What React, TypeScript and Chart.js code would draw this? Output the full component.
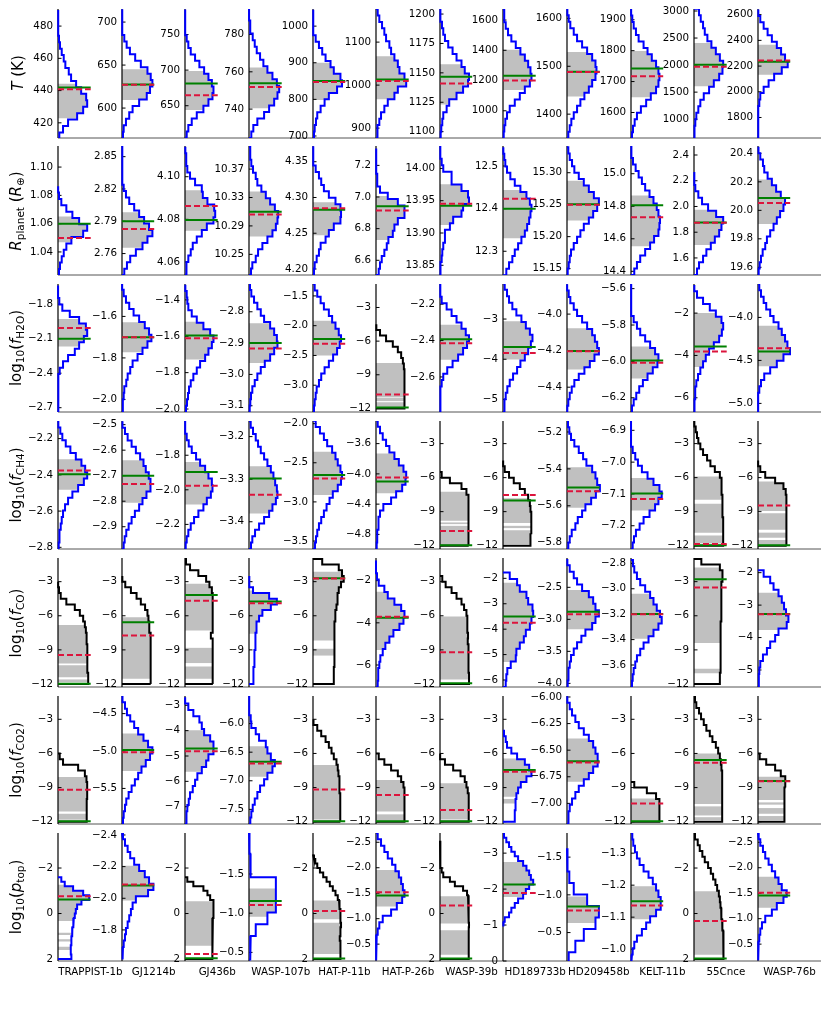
import React, { useEffect, useRef } from "react";
import { Chart, registerables } from "chart.js";

Chart.register(...registerables);

const PLANETS = ["TRAPPIST-1b", "GJ1214b", "GJ436b", "WASP-107b", "HAT-P-11b", "HAT-P-26b", "WASP-39b", "HD189733b", "HD209458b", "KELT-11b", "55Cnce", "WASP-76b"];

type R2 = [number, number];

// ---------- Row 1: T (K)
const T_KIND = ["b", "b", "b", "b", "b", "b", "b", "b", "b", "b", "b", "b"];
const T_RANGE: R2[] = [[410.6, 490.6], [565.2, 715.2], [604.7, 785.8], [724.5, 793.7], [694.5, 1046.8], [877, 1177], [1094.6, 1204.3], [820, 1673], [1350.2, 1619.6], [1517.4, 1934.8], [652, 3037], [1640.5, 2644]];
const T_TICKS = [[420, 440, 460, 480], [600, 650, 700], [650, 700, 750], [740, 760, 780], [700, 800, 900, 1000], [900, 1000, 1100], [1100, 1125, 1150, 1175, 1200], [1000, 1200, 1400, 1600], [1400, 1500, 1600], [1600, 1700, 1800, 1900], [1000, 1500, 2000, 2500, 3000], [1800, 2000, 2200, 2400, 2600]];
const T_DEC = [0, 0, 0, 0, 0, 0, 0, 0, 0, 0, 0, 0];
const T_BINS: R2[] = [[410, 490], [565, 715], [605, 785], [724.5, 794.5], [695, 1045], [877, 1177], [1094.5, 1204.5], [820, 1670], [1350, 1620], [1515, 1935], [640, 3040], [1640, 2640]];
const T_COUNTS = [
  [1.3, 5, 10, 19, 25, 29, 28, 23, 18, 13, 10.7, 7.3, 5.7, 3.7, 2, 1, 0.7, 0.3, 0.2, 0],
  [1, 1.7, 4, 7.3, 10.7, 17.3, 25, 28.3, 30.7, 29, 25.7, 19, 13.3, 8, 4.7, 2.3, 1, 0.3, 0.2, 0],
  [1.7, 3.3, 6.7, 11.7, 18.3, 23.3, 27.3, 28.3, 26.7, 23.3, 19, 14.3, 10, 5.7, 3.3, 1.7, 0.7, 0.3, 0.1, 0],
  [2.3, 4.3, 8.3, 15, 20, 25, 28.3, 30, 27.7, 23.3, 18.3, 14.3, 11, 7.7, 5.7, 3.7, 1.7, 1, 0.3, 0],
  [1, 1.7, 3, 4.3, 7.7, 11.7, 16, 24.3, 29.3, 27.7, 21, 17.7, 12.7, 9.3, 6, 2.7, 1, 0.3, 0.2, 0],
  [1, 1.7, 3.3, 5, 8.3, 11.7, 18.3, 21.7, 30, 28.3, 23.3, 21.7, 18.3, 15, 13.3, 10, 8.3, 6, 3.3, 1.7],
  [0.7, 1.3, 2.3, 3.3, 6.7, 9.3, 16.7, 23.3, 28.3, 29.3, 25, 21.7, 16.7, 12.7, 8.3, 5, 3.3, 2, 1, 0.3],
  [0.7, 1.3, 2.3, 4, 6.7, 11.7, 16.7, 21.7, 26.7, 28.3, 27.3, 25, 21.7, 17.3, 12.7, 8.3, 5, 2.7, 1.7, 1],
  [1.3, 2.7, 4.3, 6.7, 10, 13.3, 17.3, 21.7, 25, 28.3, 29.3, 28.3, 25, 20, 15, 10, 6.7, 3.3, 1.7, 0.7],
  [1, 2, 3.7, 6, 10, 15.3, 20, 25.3, 27.7, 28.7, 27.7, 25.3, 21, 16.7, 12.7, 7.7, 5, 2.7, 1.3, 0.3],
  [0.3, 0.7, 1.3, 2.3, 4.3, 6.3, 9.7, 15, 19.7, 25, 28.3, 29, 25.7, 21.7, 17.3, 13.3, 10.7, 9, 6.7, 5],
  [0, 0.1, 0.2, 0.3, 0.7, 1.3, 2.3, 5.7, 10.7, 16.3, 24, 30, 27.3, 23.3, 19, 14, 9.7, 5.7, 2.3, 0.7],
];
const T_CI: R2[][] = [[[422.9, 444.2]], [[609.4, 645]], [[643.9, 698.6]], [[740.4, 762.3]], [[798.2, 900]], [[967, 1067]], [[1123.1, 1157.4]], [[1138, 1404]], [[1437, 1530]], [[1649, 1799]], [[1609, 2410]], [[2133, 2366]]];
const T_TRUE = [441.9, 627.5, 681.1, 753.9, 850.5, 1013.3, 1146.6, 1231, 1488.5, 1742.4, 2006, 2234];
const T_RETR = [440.8, 627, 664.6, 751.9, 847.7, 1009.4, 1140.9, 1200, 1488, 1717.4, 1969, 2244];

// ---------- Row 2: R_planet
const R_KIND = ["b", "b", "b", "b", "b", "b", "b", "b", "b", "b", "b", "b"];
const R_RANGE: R2[] = [[1.0237, 1.1149], [2.7401, 2.8599], [4.0539, 4.1144], [10.2209, 10.4025], [4.1916, 4.372], [6.507, 7.3225], [13.835, 14.0347], [12.2443, 12.547], [15.14, 15.3418], [14.3774, 15.1705], [1.4675, 2.47], [19.546, 20.4516]];
const R_TICKS = [[1.04, 1.06, 1.08, 1.1], [2.76, 2.79, 2.82, 2.85], [4.06, 4.08, 4.1], [10.25, 10.29, 10.33, 10.37], [4.2, 4.25, 4.3, 4.35], [6.6, 6.8, 7, 7.2], [13.85, 13.9, 13.95, 14], [12.3, 12.4, 12.5], [15.15, 15.2, 15.25, 15.3], [14.4, 14.6, 14.8, 15], [1.6, 1.8, 2, 2.2, 2.4], [19.6, 19.8, 20, 20.2, 20.4]];
const R_DEC = [2, 2, 2, 2, 2, 1, 2, 1, 2, 1, 1, 1];
const R_BINS: R2[] = [[1.0235, 1.0865], [2.74, 2.86], [4.054, 4.114], [10.221, 10.401], [4.1916, 4.3716], [6.507, 7.307], [13.835, 14.035], [12.244, 12.544], [15.14, 15.34], [14.377, 15.177], [1.4675, 2.2675], [19.546, 20.446]];
const R_COUNTS = [
  [1, 2, 3.7, 5.7, 8.3, 13.3, 25, 29, 21, 14.3, 8.3, 3.3, 1, 0.3],
  [2.3, 5, 8.3, 14, 20.7, 25.7, 30.7, 27.3, 22.3, 17.3, 12.3, 7.3, 4, 1.7, 1, 0.7, 0.3, 0.2, 0.1, 0],
  [1, 1.7, 3.3, 5.7, 7.7, 11.7, 16.7, 21.7, 28.3, 30, 29, 22.3, 17.7, 16.7, 10, 5, 2.3, 1.7, 1, 0.7],
  [2, 3.3, 6.7, 9, 13.3, 18.3, 23.3, 26.7, 28.3, 29, 25.7, 21, 16.7, 12.3, 8.3, 6.7, 4, 2.3, 1.7, 1],
  [1, 1.7, 3.7, 6, 7.7, 12.7, 16, 21, 27.7, 28.3, 27.7, 22.7, 16, 11, 8.3, 6, 2.7, 1, 0.3, 0],
  [2.7, 4, 5.7, 8.3, 10.7, 12.3, 16.7, 18.3, 21.7, 28.3, 28.3, 21.7, 11.7, 4, 1.7, 1, 0.7, 0.3, 0.2, 0],
  [0.3, 0.7, 1.7, 2.3, 3.3, 5, 5, 10, 13.3, 21.7, 23.3, 29.3, 28.3, 21.7, 11.7, 11.7, 3.3, 1.7, 0.7, 0.3],
  [3.3, 6, 9.3, 11.7, 15, 18.3, 21.7, 24, 26, 27.3, 28.3, 26.7, 23.3, 17.3, 11.7, 7.3, 4, 2.3, 1.3, 0.7],
  [0.7, 1.7, 2.7, 4, 6.7, 10, 13.3, 16.7, 21.7, 26, 30, 31.7, 26.7, 21.7, 16.7, 11.7, 7.3, 5, 2.7, 1.3],
  [3.3, 6, 9.3, 14.3, 19.3, 23.3, 27.7, 28.7, 29.3, 27.7, 26, 22.7, 18.7, 14.3, 11, 7.7, 4.7, 2, 1, 0.3],
  [3, 5, 9, 12.3, 16.7, 20.7, 25, 27.3, 29, 22, 14, 8, 4.3, 1.3, 0.7, 0.3],
  [0.7, 1.7, 3, 4.7, 7.3, 9, 12.3, 15.7, 19, 22.3, 25.7, 27.3, 23, 18.3, 14, 9.7, 6.3, 5, 2.3, 1],
];
const R_CI: R2[][] = [[[1.0469, 1.065]], [[2.7653, 2.7984]], [[4.0747, 4.0936]], [[10.275, 10.3385]], [[4.2472, 4.2935]], [[6.728, 7.007]], [[13.9124, 13.9753]], [[12.3306, 12.444]], [[15.2254, 15.2876]], [[14.5548, 14.866]], [[1.701, 1.974]], [[19.9038, 20.216]]];
const R_TRUE = [1.06, 2.79, 4.0797, 10.31, 4.2827, 6.9415, 13.9422, 12.4, 15.2505, 14.806, 1.876, 20.0869];
const R_RETR = [1.0498, 2.7829, 4.0863, 10.306, 4.285, 6.914, 13.9453, 12.4235, 15.25, 14.732, 1.874, 20.0516];

// ---------- Row 3: log10 f_H2O
const H2O_KIND = ["b", "b", "b", "b", "b", "k", "b", "b", "b", "b", "b", "b"];
const H2O_RANGE: R2[] = [[-2.7374, -1.6246], [-2.0606, -1.4438], [-2.0164, -1.3127], [-3.12, -2.7113], [-3.45, -1.3], [-12.32, -0.906], [-2.7927, -2.089], [-5.3128, -2.1276], [-4.5357, -3.8353], [-6.2782, -5.5745], [-6.672, -0.625], [-5.1, -3.6115]];
const H2O_TICKS = [[-2.7, -2.4, -2.1, -1.8], [-2, -1.8, -1.6], [-2, -1.8, -1.6, -1.4], [-3.1, -3, -2.9, -2.8], [-3, -2.5, -2, -1.5], [-12, -9, -6, -3], [-2.6, -2.4, -2.2], [-5, -4, -3], [-4.4, -4.2, -4], [-6.2, -6, -5.8, -5.6], [-6, -4, -2], [-5, -4.5, -4]];
const H2O_DEC = [1, 1, 1, 1, 1, 0, 1, 0, 1, 1, 0, 1];
const H2O_BINS: R2[] = [[-2.737, -1.637], [-2.0606, -1.4406], [-2.0164, -1.3164], [-3.12, -2.71], [-3.45, -1.3], [-12, -4.5], [-2.793, -2.089], [-5.313, -2.113], [-4.536, -3.836], [-6.278, -5.574], [-6.672, -0.672], [-5.1, -3.61]];
const H2O_COUNTS = [
  [0, 0.2, 0.3, 0.3, 0.5, 0.7, 1.7, 5, 10, 16.7, 21, 25.7, 29, 27.7, 21, 11.7, 4.3, 1.3, 0.3, 0],
  [0.7, 1, 1.7, 2.3, 4.3, 5.7, 8.3, 10.7, 15.7, 20.7, 25.7, 29.7, 27.3, 23, 17.3, 11.7, 7.3, 4, 1.7, 0.3],
  [1, 2, 3, 4, 5.7, 8.3, 11.7, 15, 20, 23.3, 26.7, 28.3, 25, 18.3, 11.7, 6.7, 3.3, 2.3, 1.7, 0.7],
  [0.7, 1.3, 2, 3.3, 5.7, 8.3, 11.7, 15.7, 21, 25, 28.3, 27.7, 25, 21, 15, 11.7, 8.3, 5, 2.3, 1],
  [1, 1.7, 2.7, 3.7, 6, 8.3, 11.7, 16, 20.3, 24.3, 27, 28.3, 26, 22.7, 19.3, 16, 11, 7.7, 4.3, 1.7],
  [28.3, 28.3, 28.3, 28.3, 28.3, 28.3, 28.3, 27.7, 26.7, 25, 21.7, 16.7, 10, 4, 0.7],
  [0.2, 0.3, 0.5, 0.7, 1.7, 3.3, 7.3, 12.7, 18.3, 23.3, 27.3, 29.3, 26, 21.7, 16.7, 11.7, 6.7, 1.7, 0.7, 0.3],
  [1, 1.7, 2.7, 4.3, 6.7, 10, 14, 17.3, 21.7, 25, 27.7, 29.3, 26.7, 22.7, 18.3, 13.3, 9.3, 6, 4, 1.7],
  [0.3, 1.3, 2.7, 4.7, 7.3, 11.7, 17.3, 22.7, 27.3, 31.7, 30, 27.7, 25, 20, 15, 10, 6.7, 3.3, 1.7, 0.3],
  [1, 2.7, 5.3, 8.3, 12, 16.7, 22, 26.7, 27.7, 24.3, 19.3, 14.3, 9.3, 6, 2.7, 1, 0.3, 0.2, 0, 0],
  [0.3, 0.7, 1, 1.3, 2.3, 4, 6.3, 9, 11.7, 15, 19.7, 25, 27.7, 29, 27.3, 21.7, 15.7, 9, 3, 0.7],
  [0, 0.2, 0.3, 1.3, 3, 6.3, 12.3, 19, 25.7, 32.3, 29.7, 27.3, 24, 20.7, 15.7, 12.3, 8.3, 5.7, 3, 1.3],
];
const H2O_CI: R2[][] = [[[-2.169, -1.9294]], [[-1.7721, -1.6287]], [[-1.7273, -1.52]], [[-2.9634, -2.837]], [[-2.5, -1.9167]], [[-11.9, -11.45], [-11.35, -11.05], [-11, -7.94]], [[-2.5055, -2.3127]], [[-4.0082, -3.0576]], [[-4.3032, -4.0778]], [[-6.0945, -5.918]], [[-4.547, -2]], [[-4.569, -4.096]]];
const H2O_TRUE = [-2.1, -1.7004, -1.5964, -2.9, -2.222, -11.92, -2.3927, -3.6955, -4.2018, -5.9945, -3.578, -4.396];
const H2O_RETR = [-2.007, -1.7, -1.6109, -2.9169, -2.3056, -10.76, -2.4145, -3.8436, -4.203, -6.0073, -3.8125, -4.3577];

// ---------- Row 4: log10 f_CH4
const CH4_KIND = ["b", "b", "b", "b", "b", "b", "k", "k", "b", "b", "k", "k"];
const CH4_RANGE: R2[] = [[-2.8092, -2.1028], [-2.9873, -2.4857], [-2.3423, -1.6019], [-3.464, -3.1633], [-3.602, -1.966], [-4.993, -3.301], [-12.293, -1.006], [-12.293, -1.006], [-5.8342, -5.1405], [-7.2731, -6.8707], [-12.293, -1.006], [-12.293, -1.006]];
const CH4_TICKS = [[-2.8, -2.6, -2.4, -2.2], [-2.9, -2.8, -2.7, -2.6, -2.5], [-2.2, -2, -1.8], [-3.4, -3.3, -3.2], [-3.5, -3, -2.5, -2], [-4.8, -4.4, -4, -3.6], [-12, -9, -6, -3], [-12, -9, -6, -3], [-5.8, -5.6, -5.4, -5.2], [-7.2, -7.1, -7, -6.9], [-12, -9, -6, -3], [-12, -9, -6, -3]];
const CH4_DEC = [1, 1, 1, 1, 1, 1, 0, 0, 1, 1, 0, 0];
const CH4_BINS: R2[] = [[-2.809, -2.103], [-2.987, -2.487], [-2.342, -1.602], [-3.464, -3.164], [-3.602, -1.962], [-4.993, -3.293], [-12, -5.5], [-12, -4.5], [-5.834, -5.14], [-7.273, -6.871], [-12, -1], [-12, -4.5]];
const CH4_COUNTS = [
  [0.7, 1, 1.7, 2.7, 3.7, 5, 7, 10, 14.3, 20, 25.7, 29, 27, 23.3, 17.7, 12.3, 7.7, 4.3, 2.3, 0.7],
  [1.7, 2.7, 4.3, 6.7, 9.7, 13, 17.3, 20.7, 24.7, 28.3, 29, 27, 24, 21.7, 18.3, 14, 9.7, 5.7, 3, 1],
  [0.7, 1.7, 3.3, 5.7, 9, 13.3, 18.3, 21.7, 25.7, 27.3, 26.7, 23.3, 20, 15, 11, 6.7, 3.7, 1.7, 0.7, 0],
  [2, 3.3, 6, 10, 15, 20, 23.3, 26.7, 28.3, 27.7, 26, 24.3, 21.7, 18.3, 15, 11.7, 9, 6.7, 4, 1.7],
  [2, 3, 4.3, 6, 8.3, 11, 13.7, 16.7, 20, 25, 28.3, 29.3, 27.7, 25, 22.7, 19.3, 14.3, 11, 7, 2.7],
  [0.7, 1, 1.3, 2, 2.7, 4, 7.3, 15, 20, 26, 29.3, 30, 27.3, 22.7, 18.3, 13.3, 10, 6.7, 4, 1.7],
  [29, 29, 29, 29, 29, 28.7, 28.7, 28.3, 28.3, 26.7, 21.7, 10, 1.7],
  [27.3, 27.3, 28.3, 28.3, 28, 28, 27.3, 26.7, 25, 21.7, 16.7, 10.7, 6, 1.7, 0.3],
  [1.3, 2.7, 4.7, 8.3, 10.7, 15, 18.3, 24, 28.7, 32.7, 30, 28.3, 25, 19.3, 16, 11.7, 7.3, 4, 2.3, 1],
  [1.7, 3, 5, 8.7, 12.7, 18.7, 24.3, 27.7, 31, 28.7, 22.7, 16.7, 11, 7, 4.3, 1.7, 0.3, 0, 0, 0],
  [29, 29, 29, 29, 29, 28.7, 28.3, 28.3, 28, 27.7, 27.3, 27.3, 25.7, 20.7, 16.3, 13, 9, 6.3, 4.3, 3, 1.7, 0.7],
  [29, 29, 29, 29, 28.7, 28.7, 28.3, 28.3, 28.3, 28, 25.7, 17.3, 7.3, 2.3, 0.3],
];
const CH4_CI: R2[][] = [[[-2.4826, -2.3138]], [[-2.8062, -2.6394]], [[-2.0846, -1.8385]], [[-3.3805, -3.2695]], [[-2.9122, -2.3598]], [[-4.255, -3.732]], [[-11.94, -10.25], [-10.1, -9.95], [-9.8, -7.25]], [[-11.87, -10.65], [-10.45, -10.25], [-10, -7.82]], [[-5.6108, -5.391]], [[-7.1522, -7.0498]], [[-11.8, -11.1], [-10.85, -8.3], [-7.95, -5.9]], [[-11.87, -11.5], [-11.3, -10.85], [-10.6, -9.15], [-8.95, -6.35]]];
const CH4_TRUE = [-2.3963, -2.7, -1.8962, -3.2984, -2.6572, -4.101, -11.97, -8.02, -5.5009, -7.099, -11.97, -11.97];
const CH4_RETR = [-2.3761, -2.7326, -1.9769, -3.3367, -2.6997, -4.048, -10.71, -7.525, -5.5207, -7.1157, -11.85, -8.46];

// ---------- Row 5: log10 f_CO
const CO_KIND = ["k", "k", "k", "b", "k", "b", "k", "b", "b", "b", "k", "b"];
const CO_RANGE: R2[] = [[-12.264, -0.918], [-12.264, -0.918], [-12.264, -0.918], [-12.264, -0.918], [-12.264, -0.918], [-7.043, -0.925], [-12.264, -0.918], [-6.275, -1.2], [-4.057, -2.042], [-3.773, -2.758], [-12.264, -0.918], [-5.524, -1.548]];
const CO_TICKS = [[-12, -9, -6, -3], [-12, -9, -6, -3], [-12, -9, -6, -3], [-12, -9, -6, -3], [-12, -9, -6, -3], [-6, -4, -2], [-12, -9, -6, -3], [-6, -5, -4, -3, -2], [-4, -3.5, -3, -2.5], [-3.6, -3.4, -3.2, -3, -2.8], [-12, -9, -6, -3], [-5, -4, -3, -2]];
const CO_DEC = [0, 0, 0, 0, 0, 0, 0, 0, 1, 1, 0, 0];
const CO_BINS: R2[] = [[-12, -3], [-12, -2.5], [-12, -1], [-12, -2.5], [-12, -1], [-7.043, -1.043], [-12, -2.5], [-6.275, -1.775], [-4.057, -2.057], [-3.773, -2.773], [-12, -1], [-5.524, -1.924]];
const CO_COUNTS = [
  [30, 30, 29.7, 29.3, 29, 29, 29, 28.7, 28.3, 27.7, 26.7, 25, 21.7, 16.7, 8.3, 2.7, 1, 0.3],
  [29, 29, 29, 29, 29, 29, 29, 29, 28.3, 28, 27.3, 26.7, 25.7, 23.3, 19, 14.7, 9, 3.3, 0.7],
  [27.7, 27.7, 27.7, 27.3, 27.7, 27.7, 27.3, 27, 25.7, 27.3, 27.7, 27.7, 27.7, 27.7, 27.3, 27, 26.7, 24.3, 21, 13.3, 5, 1],
  [4, 4.3, 4.7, 5, 5.3, 5.7, 6, 6.3, 6.7, 7, 7.7, 10, 13.3, 21.7, 27.7, 20, 4, 0.7, 0.3],
  [21, 21, 21, 21.3, 21.3, 21.3, 21.7, 21.7, 21.7, 22, 22, 22.3, 22.7, 23.7, 24.3, 25, 26, 28.3, 31, 29.3, 26, 9.3],
  [1.7, 2, 2.3, 3.3, 4.3, 6.7, 9.3, 13.3, 17.3, 23.3, 27.3, 28.3, 25, 18.3, 11.7, 8.3, 2.7, 1, 0, 0],
  [29.3, 29.3, 29, 29, 29, 28.7, 28.3, 28, 28.3, 28, 27.7, 27.3, 26.7, 24.3, 21.7, 16.7, 11.7, 5.7, 2.3],
  [2.7, 3.3, 4.3, 7.7, 12.7, 13.3, 16.7, 20.7, 22.7, 26.7, 28.3, 30, 29.3, 25, 23.3, 16.7, 14, 6.7],
  [0.7, 1, 1.7, 2.7, 4, 6.7, 10, 14.3, 18.3, 25, 28.3, 31.7, 28.3, 26, 21.7, 15, 10, 6.7, 2.7, 0.7],
  [1, 1.7, 2.7, 4.3, 6, 9.3, 12.7, 17.7, 22.7, 27.7, 31, 29.3, 26, 22.7, 19.3, 14.3, 9.3, 6, 3.3, 2],
  [25.7, 25.7, 26, 26, 26.3, 26.3, 26.3, 26.7, 26.7, 26.7, 26.7, 27, 27, 27, 27.3, 27.3, 27.3, 27.3, 28.3, 28.3, 25.7, 7.3],
  [0.7, 1, 1.3, 2.3, 5, 9, 12.3, 17.3, 20.7, 29, 30.7, 28.3, 26.3, 24, 20.7, 15.7, 12.3, 5.7],
];
const CO_CI: R2[][] = [[[-11.85, -11.6], [-11.4, -10.35], [-10.2, -6.8]], [[-11.54, -6.12]], [[-11.54, -10.46], [-10.16, -8.82], [-7.29, -3.18]], [[-7.58, -3.77]], [[-9.5, -8.9], [-8.17, -2.12]], [[-5.29, -2.52]], [[-11.6, -6.06]], [[-5.29, -2.17]], [[-3.156, -2.542]], [[-3.3935, -3.0393]], [[-11.05, -10.65], [-8.4, -1.76]], [[-3.77, -2.62]]];
const CO_TRUE = [-11.97, -6.56, -4.17, -4.74, -2.7, -3.755, -11.94, -3.4983, -2.88, -3.199, -2.79, -3.2775];
const CO_RETR = [-9.44, -7.73, -4.67, -4.89, -2.72, -3.7075, -9.2, -3.748, -2.922, -3.2, -3.52, -3.28];

// ---------- Row 6: log10 f_CO2
const CO2_KIND = ["k", "b", "b", "b", "k", "k", "k", "b", "b", "k", "k", "k"];
const CO2_RANGE: R2[] = [[-12.2, -0.953], [-5.9756, -4.2644], [-7.682, -2.633], [-7.756, -5.5174], [-12.2, -0.953], [-12.2, -0.953], [-12.2, -0.953], [-12.2, -0.953], [-7.194, -5.9906], [-12.2, -0.953], [-12.2, -0.953], [-12.2, -0.953]];
const CO2_TICKS = [[-12, -9, -6, -3], [-5.5, -5, -4.5], [-7, -6, -5, -4, -3], [-7.5, -7, -6.5, -6], [-12, -9, -6, -3], [-12, -9, -6, -3], [-12, -9, -6, -3], [-12, -9, -6, -3], [-7, -6.75, -6.5, -6.25, -6], [-12, -9, -6, -3], [-12, -9, -6, -3], [-12, -9, -6, -3]];
const CO2_DEC = [0, 1, 0, 1, 0, 0, 0, 0, 2, 0, 0, 0];
const CO2_BINS: R2[] = [[-12, -6], [-5.976, -4.264], [-7.682, -2.682], [-7.756, -5.516], [-12, -3], [-12, -6], [-12, -6], [-12, -4], [-7.194, -5.994], [-12, -8.5], [-12, -1], [-12, -6]];
const CO2_COUNTS = [
  [28.3, 28.3, 28.7, 28.7, 29, 29, 29, 28.3, 26.7, 20, 5, 1.7],
  [1, 1.7, 3, 4.3, 6.7, 9.7, 13, 16.3, 19.7, 24, 28.3, 30.7, 26.3, 21.7, 16.3, 12.3, 8.3, 5, 3, 1],
  [1, 1.7, 2.3, 3.7, 5, 7.7, 10, 12.3, 16.7, 21, 23.3, 28.3, 28.3, 25, 19, 16.7, 14.3, 8.3, 3.3, 0.3],
  [1.3, 2.3, 3.7, 5.7, 8.3, 11, 15, 18.3, 23.3, 25.7, 21.7, 18.3, 16.7, 10, 6.7, 2.3, 1.7, 0.7, 0.3, 0],
  [27.7, 27.7, 27.7, 27.3, 27.3, 27, 27, 26.3, 25.7, 25, 23.7, 21, 18.7, 16, 12.7, 8.3, 4.3, 1],
  [28.3, 28.3, 28.3, 28.3, 28.3, 28.3, 27.3, 25, 21.7, 15, 8.3, 2.7],
  [29, 29, 29, 29, 29, 28, 26.7, 25, 20.7, 13.3, 5, 0.3],
  [11.7, 11.7, 12, 12.7, 13.3, 15, 17.7, 23.3, 28.3, 26, 21.7, 14, 8.3, 4, 2.7, 1],
  [1, 1.7, 2.7, 5, 8.3, 11.7, 16.7, 21.7, 26, 30, 30.7, 28.3, 26, 21.7, 16.7, 11.7, 8.3, 5, 2.7, 0.7],
  [28.7, 28.7, 28.7, 28.7, 25.3, 16, 3.3],
  [28, 28, 28, 28, 28, 28, 28, 28, 28, 27.3, 26.7, 25.7, 24, 21.7, 18.3, 15.7, 12.3, 9.7, 7, 5, 2.3, 1],
  [26.7, 26.7, 26.7, 26.7, 26.7, 26.7, 28, 27.3, 23, 17.3, 8.3, 1.7],
];
const CO2_CI: R2[][] = [[[-11.82, -11.3], [-11.1, -8.08]], [[-5.2667, -4.7667]], [[-5.62, -3.98]], [[-6.93, -6.395]], [[-11.8, -7.02]], [[-11.85, -11.35], [-11.1, -8.34]], [[-11.8, -8.63]], [[-10.4, -10], [-9.8, -6.44]], [[-6.797, -6.39]], [[-11.85, -9.95]], [[-11.85, -11.6], [-11.45, -10.65], [-10.45, -6]], [[-11.85, -11.5], [-11.3, -10.8], [-10.5, -10.3], [-10.1, -8.05]]];
const CO2_TRUE = [-11.95, -4.9867, -4.705, -6.6686, -11.95, -11.95, -11.95, -7.46, -6.6031, -11.95, -6.58, -8.43];
const CO2_RETR = [-9.18, -5.0178, -4.81, -6.6977, -9.16, -9.66, -10.97, -7.61, -6.6156, -10.39, -6.82, -8.44];

// ---------- Row 7: log10 p_top (axis inverted)
const P_KIND = ["b", "b", "k", "b", "k", "b", "k", "b", "b", "b", "k", "b"];
const P_RANGE: R2[] = [[-3.54, 2.087], [-2.4125, -1.6035], [-3.54, 2.087], [-2.023, -0.39], [-3.54, 2.087], [-2.682, -0.169], [-3.54, 2.087], [-3.56, 0], [-1.82, -0.123], [-1.363, -0.963], [-3.54, 2.087], [-2.682, -0.169]];
const P_TICKS = [[-2, 0, 2], [-2.4, -2.2, -2, -1.8], [-2, 0, 2], [-1.5, -1, -0.5], [-2, 0, 2], [-2.5, -2, -1.5, -1, -0.5], [-2, 0, 2], [-3, -2, -1, 0], [-1.5, -1, -0.5], [-1.3, -1.2, -1.1, -1], [-2, 0, 2], [-2.5, -2, -1.5, -1, -0.5]];
const P_DEC = [0, 1, 0, 1, 0, 1, 0, 0, 1, 1, 0, 1];
const P_BINS: R2[] = [[-1.6, 2], [-2.4125, -1.6125], [-1.6, 2], [-2.058, -0.408], [-2.6, 2], [-2.682, -0.182], [-3.2, 2], [-3.56, -0.96], [-1.617, -0.087], [-1.363, -0.963], [-3.5, 2], [-2.682, -0.182]];
const P_COUNTS = [
  [3.3, 6.7, 15, 25, 31, 23.3, 19, 17.7, 16.7, 15.7, 15, 14.3, 14, 13.3, 13.3, 12.7, 12.7, 13.3],
  [1, 3, 5.7, 8.3, 12.3, 17.3, 23, 27.3, 31.7, 26.3, 14, 10.7, 9, 7.3, 5.7, 4, 3, 1.7, 1, 0.7],
  [2.3, 8.3, 18.3, 22.3, 25, 28.3, 28.3, 28.3, 28.3, 27.7, 27.7, 27.3, 27.3, 27, 27, 27, 27, 27],
  [0.3, 0.7, 1.3, 1.7, 26.7, 26.7, 26.7, 18.3, 6.7, 1.7, 1],
  [1, 2.3, 4.3, 7, 10.3, 13.7, 17, 20, 22.7, 25, 26.3, 27, 27.7, 27.7, 27.7, 28.3, 27.7, 27.7, 27, 27.7, 27.7, 27.7, 27.7],
  [1.7, 5, 8.3, 11.7, 16, 19.3, 22.7, 25, 26.7, 28.3, 26, 20.7, 15, 6.7, 3.3, 1.7, 0.7, 0.3, 0, 0],
  [0.3, 0.3, 0.3, 0.3, 0.3, 0.7, 1.7, 3.3, 10, 15, 23.3, 27.3, 28.3, 29, 29, 29, 29, 29, 29.3, 29, 29, 29, 29, 29, 29, 29],
  [1, 3.3, 6, 8.3, 11.7, 15, 20, 23.3, 26, 27.7, 30, 26, 22.7, 20, 15, 11.7, 8.3, 6, 1.7, 0.7],
  [0.3, 0.7, 2.3, 6.7, 20, 31.7, 28.3, 16.7, 8.3, 1.7],
  [1.3, 2.3, 4, 6, 8.7, 12.7, 17.7, 22, 25.3, 27.7, 30, 30, 25.3, 19.3, 15.3, 11, 6, 3.3, 1.7, 1],
  [1, 3.7, 5.7, 8.3, 10.7, 14, 16.7, 19, 21.3, 23, 24.7, 25.7, 26.3, 27, 27.3, 28, 28.3, 29, 29.3, 29.7, 29.3, 29],
  [0.7, 2.3, 5, 7.3, 10.7, 14, 17.3, 20.7, 24, 29, 25.7, 19, 14, 7.3, 4, 2.3, 1.3, 0.7, 0.3, 0],
];
const P_CI: R2[][] = [[[-1.27, 0.33], [0.84, 0.94], [1.13, 1.23], [1.46, 1.6]], [[-2.2062, -1.9862]], [[-0.545, 1.42]], [[-1.3143, -0.9536]], [[-0.575, 0.25], [0.4, 1.78]], [[-1.9545, -1.24]], [[-0.764, 0.44], [0.735, 1.81]], [[-2.752, -1.78]], [[-0.978, -0.627]], [[-1.1966, -1.0932]], [[-0.98, 1.81]], [[-1.8247, -1.2143]]];
const P_TRUE = [-0.618, -2.08, 1.97, -1.154, 1.98, -1.4545, 1.98, -2.128, -0.8465, -1.15, 1.98, -1.4545];
const P_RETR = [-0.764, -2.0865, 1.78, -1.1055, -0.109, -1.5195, -0.356, -1.89, -0.794, -1.1366, 0.327, -1.5065];

// ---------- assembled rows
const ROWS = [
  { kind: T_KIND, range: T_RANGE, ticks: T_TICKS, dec: T_DEC, bins: T_BINS, counts: T_COUNTS, ci: T_CI, truth: T_TRUE, retr: T_RETR, reverse: false },
  { kind: R_KIND, range: R_RANGE, ticks: R_TICKS, dec: R_DEC, bins: R_BINS, counts: R_COUNTS, ci: R_CI, truth: R_TRUE, retr: R_RETR, reverse: false },
  { kind: H2O_KIND, range: H2O_RANGE, ticks: H2O_TICKS, dec: H2O_DEC, bins: H2O_BINS, counts: H2O_COUNTS, ci: H2O_CI, truth: H2O_TRUE, retr: H2O_RETR, reverse: false },
  { kind: CH4_KIND, range: CH4_RANGE, ticks: CH4_TICKS, dec: CH4_DEC, bins: CH4_BINS, counts: CH4_COUNTS, ci: CH4_CI, truth: CH4_TRUE, retr: CH4_RETR, reverse: false },
  { kind: CO_KIND, range: CO_RANGE, ticks: CO_TICKS, dec: CO_DEC, bins: CO_BINS, counts: CO_COUNTS, ci: CO_CI, truth: CO_TRUE, retr: CO_RETR, reverse: false },
  { kind: CO2_KIND, range: CO2_RANGE, ticks: CO2_TICKS, dec: CO2_DEC, bins: CO2_BINS, counts: CO2_COUNTS, ci: CO2_CI, truth: CO2_TRUE, retr: CO2_RETR, reverse: false },
  { kind: P_KIND, range: P_RANGE, ticks: P_TICKS, dec: P_DEC, bins: P_BINS, counts: P_COUNTS, ci: P_CI, truth: P_TRUE, retr: P_RETR, reverse: true },
];

// ---------- layout & style
const AX0 = 58.3;
const AX_STEP = 63.58;
const ROW0 = 9;
const ROW_STEP = 137.33;
const ROW_H = 128.5;
const LEFT = 42;
const PAD = 16;
const X_MAX = 63.6;
const LINE_LEN = 32.5;
const FONT = "'DejaVu Sans', 'Liberation Sans', sans-serif";
const BLUE = "#0000ff";
const GREEN = "#008000";
const RED = "#dc143c";
const GREY = "#c0c0c0";

function fmt(v: number, dec: number) {
  const s = Math.abs(v).toFixed(dec);
  return (v < 0 && Number(s) !== 0 ? "\u2212" : "") + s;
}

function outline(b: R2, c: number[]) {
  const n = c.length;
  const w = (b[1] - b[0]) / n;
  const pts: { x: number; y: number }[] = [{ x: 0, y: b[0] }];
  for (let i = 0; i < n; i++) {
    pts.push({ x: c[i], y: b[0] + i * w }, { x: c[i], y: b[0] + (i + 1) * w });
  }
  pts.push({ x: 0, y: b[1] });
  return pts;
}

function band(b: R2, c: number[], lo: number, hi: number) {
  const n = c.length;
  const w = (b[1] - b[0]) / n;
  const cnt = (i: number) => (i >= 0 && i < n ? c[i] : 0);
  const iLo = Math.floor((lo - b[0]) / w);
  const iHi = Math.ceil((hi - b[0]) / w) - 1;
  const pts: { x: number; y: number }[] = [{ x: 0, y: lo }, { x: cnt(iLo), y: lo }];
  for (let i = 0; i <= n; i++) {
    const e = b[0] + i * w;
    if (e > lo && e < hi) pts.push({ x: cnt(i - 1), y: e }, { x: cnt(i), y: e });
  }
  pts.push({ x: cnt(iHi), y: hi }, { x: 0, y: hi });
  return pts;
}

type PanelProps = { r: number; c: number };

function Panel({ r, c }: PanelProps) {
  const ref = useRef<HTMLCanvasElement | null>(null);
  const row = ROWS[r];
  const left = Math.round(AX0 + c * AX_STEP);
  const right = Math.round(AX0 + (c + 1) * AX_STEP);
  const top = Math.round(ROW0 + r * ROW_STEP);
  const bottom = Math.round(ROW0 + r * ROW_STEP + ROW_H);
  const w = right - left;
  const h = bottom - top;
  const W = LEFT + w;
  const H = h + 2 * PAD;

  useEffect(() => {
    const canvas = ref.current;
    if (!canvas) return;
    const bins = row.bins[c];
    const counts = row.counts[c];
    const ticks = row.ticks[c];
    const dec = row.dec[c];
    const col = row.kind[c] === "b" ? BLUE : "#000000";
    const clip = { left: 3, top: 0, right: 3, bottom: 0 } as any;
    const datasets: any[] = [
      {
        label: "retrieved",
        data: [{ x: 0, y: row.retr[c] }, { x: LINE_LEN, y: row.retr[c] }],
        showLine: true, borderColor: RED, borderWidth: 2, borderDash: [6, 3], pointRadius: 0, fill: false, order: 0, clip,
      },
      {
        label: "true",
        data: [{ x: 0, y: row.truth[c] }, { x: LINE_LEN, y: row.truth[c] }],
        showLine: true, borderColor: GREEN, borderWidth: 2, pointRadius: 0, fill: false, order: 1, clip,
      },
      {
        label: "hist",
        data: outline(bins, counts),
        showLine: true, borderColor: col, borderWidth: 2, pointRadius: 0, fill: false, order: 2, clip,
        borderJoinStyle: "miter",
      },
    ];
    row.ci[c].forEach((seg, k) => {
      datasets.push({
        label: "ci" + k,
        data: band(bins, counts, seg[0], seg[1]),
        showLine: true, borderColor: "rgba(0,0,0,0)", borderWidth: 0, backgroundColor: GREY,
        pointRadius: 0, fill: "shape", order: 5 + k, clip,
      });
    });

    const axesPlugin = {
      id: "axesDeco",
      beforeDatasetDraw(chart: any, args: any) {
        const ds = chart.data.datasets[args.index];
        if (!ds || ds.label !== "hist") return;
        const { ctx, chartArea: a } = chart;
        const y = chart.scales.y;
        ctx.save();
        ctx.lineCap = "butt";
        ctx.strokeStyle = "#555555";
        ctx.lineWidth = 1;
        ctx.beginPath();
        ctx.moveTo(a.left, a.bottom);
        ctx.lineTo(a.right, a.bottom);
        ctx.stroke();
        ctx.strokeStyle = "#000000";
        ctx.lineWidth = 1.2;
        ctx.beginPath();
        ctx.moveTo(a.left, a.top);
        ctx.lineTo(a.left, a.bottom);
        ctx.stroke();
        ctx.lineWidth = 1;
        ticks.forEach((v: number) => {
          const py = y.getPixelForValue(v);
          ctx.beginPath();
          ctx.moveTo(a.left, py);
          ctx.lineTo(a.left + 3.5, py);
          ctx.stroke();
        });
        ctx.restore();
      },
    };

    const chart = new Chart(canvas, {
      type: "scatter",
      data: { datasets },
      options: {
        responsive: false,
        animation: false,
        devicePixelRatio: 1,
        events: [],
        layout: { padding: { left: 0, right: 0, top: PAD, bottom: PAD } },
        plugins: { legend: { display: false }, tooltip: { enabled: false } },
        scales: {
          x: { type: "linear", min: 0, max: X_MAX, display: false },
          y: {
            type: "linear",
            min: row.range[c][0],
            max: row.range[c][1],
            reverse: row.reverse,
            bounds: "data",
            grid: { display: false, drawTicks: false },
            border: { display: false },
            ticks: {
              autoSkip: false,
              padding: 5,
              color: "#000000",
              font: { family: FONT, size: 10.3 },
              callback: (v: any) => fmt(Number(v), dec),
            },
            afterBuildTicks: (s: any) => {
              s.ticks = ticks.map((v: number) => ({ value: v }));
            },
            afterFit: (s: any) => {
              s.width = LEFT;
              s.paddingTop = 0;
              s.paddingBottom = 0;
            },
          },
        },
      } as any,
      plugins: [axesPlugin],
    });
    return () => chart.destroy();
  }, []);

  return (
    <canvas
      ref={ref}
      width={W}
      height={H}
      style={{ position: "absolute", left: left - LEFT, top: top - PAD, width: W, height: H }}
    />
  );
}

const Sub = ({ children }: { children: React.ReactNode }) => (
  <span style={{ fontSize: "0.7em", verticalAlign: "-0.3em" }}>{children}</span>
);

const ROW_TITLES = [
  <><i>T</i> (K)</>,
  <><i>R</i><Sub>planet</Sub> (<i>R</i><Sub>{"\u2295"}</Sub>)</>,
  <>log<Sub>10</Sub>(<i>f</i><Sub>H2O</Sub>)</>,
  <>log<Sub>10</Sub>(<i>f</i><Sub>CH4</Sub>)</>,
  <>log<Sub>10</Sub>(<i>f</i><Sub>CO</Sub>)</>,
  <>log<Sub>10</Sub>(<i>f</i><Sub>CO2</Sub>)</>,
  <>log<Sub>10</Sub>(<i>p</i><Sub>top</Sub>)</>,
];

export default function App() {
  const panels: React.ReactNode[] = [];
  for (let r = 0; r < 7; r++) for (let c = 0; c < 12; c++) panels.push(<Panel key={r + "-" + c} r={r} c={c} />);
  return (
    <div style={{ position: "absolute", left: 0, top: 0, width: 830, height: 1013, background: "#ffffff", overflow: "hidden", fontFamily: FONT }}>
      {panels}
      {ROW_TITLES.map((t, r) => (
        <div
          key={"t" + r}
          style={{
            position: "absolute",
            left: 18,
            top: ROW0 + r * ROW_STEP + ROW_H / 2,
            transform: "translate(-50%, -50%) rotate(-90deg)",
            whiteSpace: "nowrap",
            fontSize: 15,
            color: "#000",
            lineHeight: "18px",
          }}
        >
          {t}
        </div>
      ))}
      {PLANETS.map((p, c) => {
        const l = AX0 + c * AX_STEP;
        return (
          <div
            key={"p" + c}
            style={{ position: "absolute", left: l, top: 964, width: AX_STEP, textAlign: "center", fontSize: 10.3, lineHeight: "14px", color: "#000", whiteSpace: "nowrap" }}
          >
            {p}
          </div>
        );
      })}
    </div>
  );
}
